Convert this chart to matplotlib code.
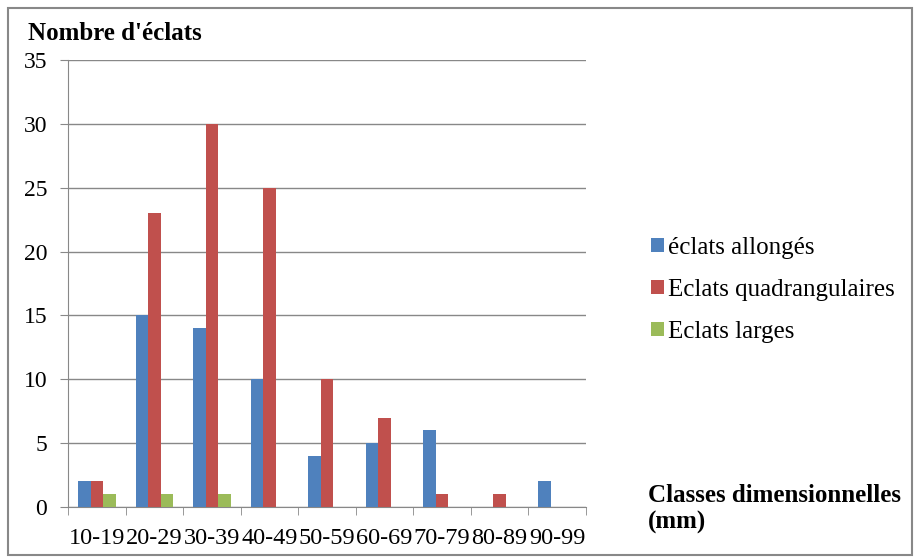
import matplotlib
matplotlib.use("Agg")
import matplotlib.pyplot as plt
import numpy as np
from matplotlib.patches import Rectangle

categories = ["10-19", "20-29", "30-39", "40-49", "50-59", "60-69", "70-79", "80-89", "90-99"]
allonges = [2, 15, 14, 10, 4, 5, 6, 0, 2]
quadrang = [2, 23, 30, 25, 10, 7, 1, 1, 0]
larges = [1, 1, 1, 0, 0, 0, 0, 0, 0]
series_names = ["éclats allongés", "Eclats quadrangulaires", "Eclats larges"]
colors = ["#4F81BD", "#C0504D", "#9BBB59"]

plt.rcParams['font.family'] = ['Liberation Serif', 'DejaVu Serif']

fig = plt.figure(figsize=(9.14, 5.57), dpi=100)
ax = fig.add_axes([68/914, 1-507/557, (586-68)/914, (507-60)/557])

x = np.arange(len(categories))
w = 0.217
for i, (vals, name, c) in enumerate(zip([allonges, quadrang, larges], series_names, colors)):
    ax.bar(x + (i-1)*w, vals, width=w, color=c, label=name, zorder=3)

ax.set_xlim(-0.5, len(categories)-0.5)
ax.set_ylim(0, 35)
ax.set_yticks(np.arange(0, 36, 5))
ax.set_xticks(x)
ax.set_xticklabels(categories)
ax.set_xticks(np.arange(-0.5, len(categories), 1), minor=True)
ax.tick_params(axis='x', which='major', length=0, labelsize=17.5, pad=15)
ax.tick_params(axis='x', which='minor', length=5.5, color='#888888', direction='out')
ax.tick_params(axis='y', length=6, color='#888888', labelsize=17, pad=9)
ax.grid(axis='y', color='#888888', linewidth=1, zorder=0)
for s in ['top', 'right']:
    ax.spines[s].set_visible(False)
for s in ['left', 'bottom']:
    ax.spines[s].set_color('#888888')

fig.text(28/914, 1-33/557, "Nombre d'éclats", fontsize=18, fontweight='bold', va='center', ha='left')
fig.text(648/914, 1-509/557, "Classes dimensionnelles\n(mm)", fontsize=18, fontweight='bold',
         va='center', ha='left', linespacing=1.2)

leg = fig.legend(loc='center left', bbox_to_anchor=(628/914, 1-290/557), frameon=False,
                 fontsize=18, handlelength=0.52, handleheight=0.52, handletextpad=0.2,
                 labelspacing=0.8)

fig.patches.append(Rectangle((8/914, 2/557), 904/914, 547/557, transform=fig.transFigure,
                             fill=False, edgecolor='#888888', linewidth=1.5))

fig.savefig("out.png", dpi=100)
